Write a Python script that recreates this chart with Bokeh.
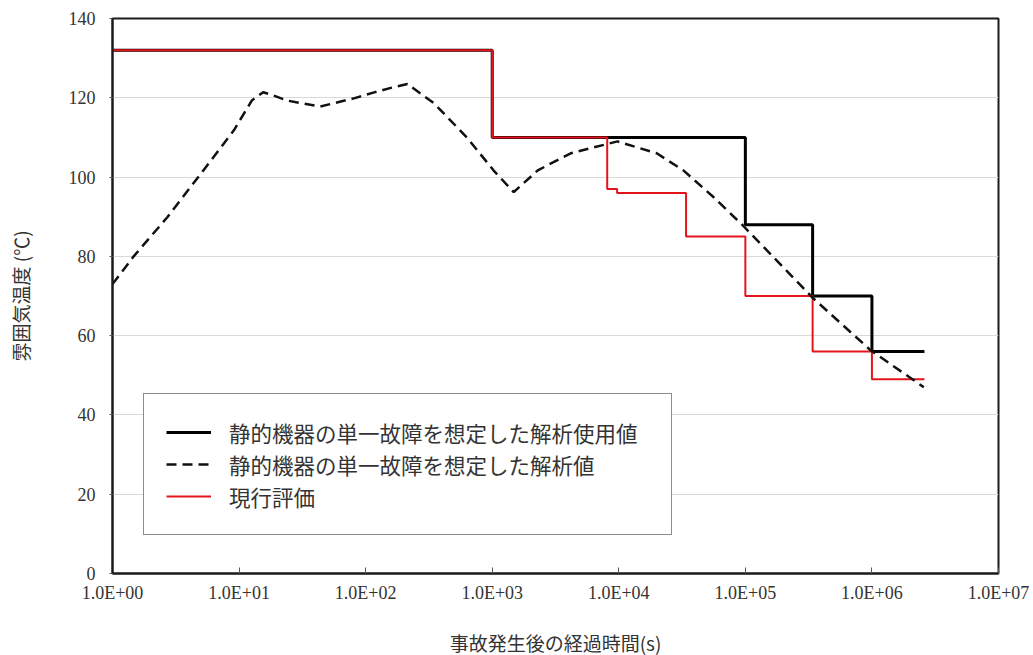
from bokeh.plotting import figure
from bokeh.models import Range1d, FixedTicker, Legend, LegendItem
from bokeh.embed import file_html
from bokeh.resources import INLINE

# 静的機器の単一故障を想定した解析使用値 (step, black)
use_time = [1, 1e3, 1e5, 3.4e5, 1e6, 2.6e6]
use_temp = [132, 110, 88, 70, 56, 56]

# 現行評価 (step, red)
cur_time = [1, 1e3, 8.1e3, 9.7e3, 3.4e4, 1e5, 3.4e5, 1e6, 2.6e6]
cur_temp = [132, 110, 97, 96, 85, 70, 56, 49, 49]

# 静的機器の単一故障を想定した解析値 (dashed)
ana_time = [1, 1.47, 2.7, 5.0, 9.1, 12.6, 15.5, 18.6, 24, 43.7, 79.4, 115, 158,
            214, 347, 631, 1023, 1479, 2291, 4169, 9772, 19950, 32360, 56230,
            95500, 338800, 977200, 2570000]
ana_temp = [73, 80, 89.8, 100.9, 111.8, 119.3, 121.4, 120.6, 119.3, 117.8, 119.8,
            121.3, 122.5, 123.5, 118.6, 110, 101.7, 96.2, 101.7, 106, 109, 106,
            101.7, 94.9, 87.8, 69.6, 56.3, 47]

x_ticks = [1, 10, 100, 1000, 10000, 100000, 1000000, 10000000]
x_tick_labels = ["1.0E+00", "1.0E+01", "1.0E+02", "1.0E+03",
                 "1.0E+04", "1.0E+05", "1.0E+06", "1.0E+07"]
y_ticks = [0, 20, 40, 60, 80, 100, 120, 140]

series_names = ["静的機器の単一故障を想定した解析使用値",
                "静的機器の単一故障を想定した解析値",
                "現行評価"]
x_label = "事故発生後の経過時間(s)"
y_label = "雰囲気温度 (℃)"

p = figure(frame_width=886, frame_height=555, x_axis_type="log",
           x_range=Range1d(1, 1e7), y_range=Range1d(0, 140),
           output_backend="svg", toolbar_location=None, title=None,
           min_border_left=112, min_border_right=35,
           min_border_top=18, min_border_bottom=82)
p.background_fill_color = "white"
p.border_fill_color = "white"
p.outline_line_color = "#1a1a1a"
p.outline_line_width = 2

r_use = p.step(use_time, use_temp, mode="after", line_color="black", line_width=3)
r_cur = p.step(cur_time, cur_temp, mode="after", line_color="#e3141c", line_width=2)
r_ana = p.line(ana_time, ana_temp, line_color="#111111", line_width=2.5,
               line_dash="10 6")

# axes
p.xaxis.ticker = FixedTicker(ticks=x_ticks)
p.xaxis.major_label_overrides = dict(zip(x_ticks, x_tick_labels))
p.xaxis.minor_tick_line_color = None
p.xaxis.major_tick_in = 6
p.xaxis.major_tick_out = 0
p.xaxis.major_label_standoff = 9
p.yaxis.ticker = FixedTicker(ticks=y_ticks)
p.yaxis.minor_tick_line_color = None
p.yaxis.major_tick_in = 0
p.yaxis.major_tick_out = 3
p.yaxis.major_label_standoff = 14
for ax in (p.xaxis, p.yaxis):
    ax.axis_line_color = "#1a1a1a"
    ax.axis_line_width = 2
    ax.major_tick_line_color = "#555555"
    ax.major_label_text_font = "Liberation Serif"
    ax.major_label_text_font_size = "18px"
    ax.major_label_text_color = "#333333"
    ax.axis_label_text_font = "Noto Sans CJK JP"
    ax.axis_label_text_font_size = "19px"
    ax.axis_label_text_font_style = "normal"
    ax.axis_label_text_color = "#333333"
p.xaxis.axis_label = x_label
p.xaxis.axis_label_standoff = 23
p.yaxis.axis_label = y_label
p.yaxis.axis_label_standoff = 32

p.xgrid.visible = False
p.ygrid.ticker = FixedTicker(ticks=y_ticks)
p.ygrid.grid_line_color = "#d9d9d9"
p.ygrid.grid_line_width = 1

legend = Legend(items=[LegendItem(label=series_names[0], renderers=[r_use]),
                       LegendItem(label=series_names[1], renderers=[r_ana]),
                       LegendItem(label=series_names[2], renderers=[r_cur])],
                location=(31, 38), margin=0, padding=22, spacing=0,
                glyph_width=45, glyph_height=20, label_height=32,
                label_width=420, label_standoff=18,
                label_text_font="Noto Sans CJK JP",
                label_text_font_size="21.5px", label_text_color="#333333",
                border_line_color="#1a1a1a", border_line_width=1.5,
                background_fill_color="white", background_fill_alpha=1)
p.add_layout(legend)

open("out.html", "w").write(file_html(p, INLINE))
